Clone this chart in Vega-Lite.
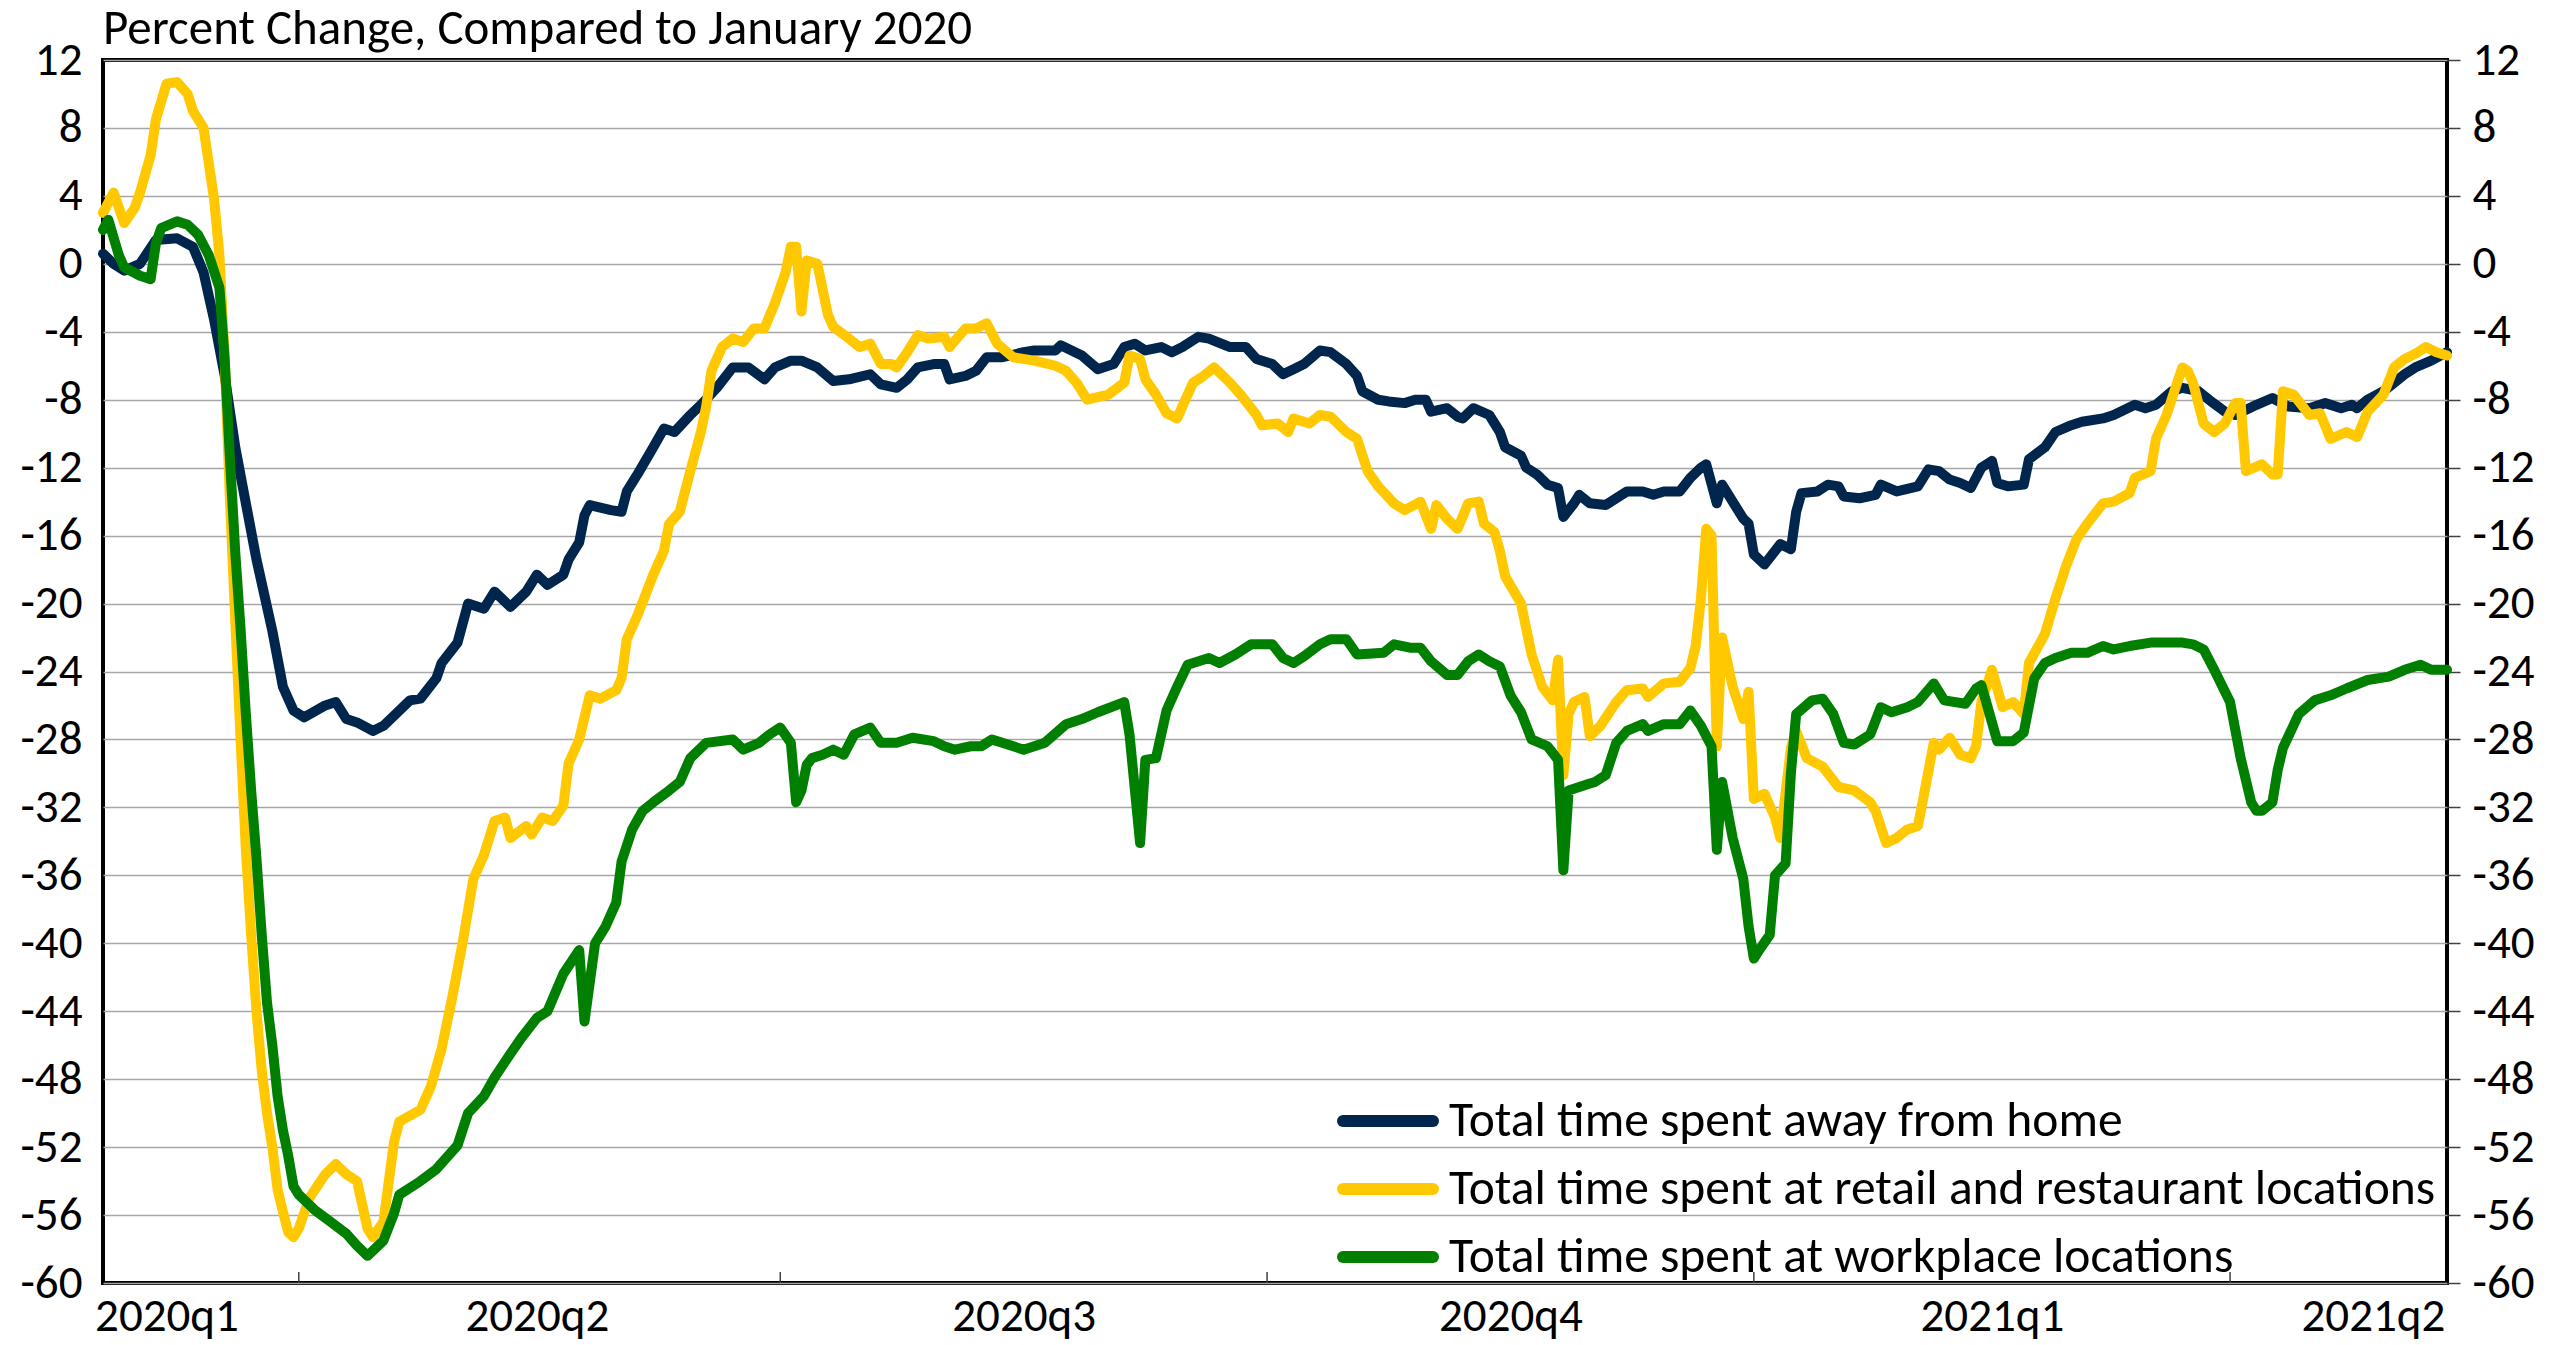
{
  "$schema": "https://vega.github.io/schema/vega-lite/v6.json",
  "autosize": {"type": "none"},
  "width": 2344,
  "height": 1223,
  "padding": {"left": 103, "top": 60, "right": 110, "bottom": 62},
  "background": "white",
  "config": {
    "font": "Carlito, Lato, sans-serif",
    "view": {"stroke": "black", "strokeWidth": 4},
    "axis": {"labelFont": "Carlito, Lato, sans-serif", "labelFontSize": 47, "labelColor": "black", "title": null}
  },
  "title": {
    "text": "Percent Change, Compared to January 2020",
    "anchor": "start",
    "frame": "group",
    "baseline": "alphabetic",
    "offset": -57,
    "fontSize": 49,
    "fontWeight": "normal",
    "color": "black",
    "font": "Carlito, Lato, sans-serif"
  },
  "datasets": {
    "qticks": [{"d": "2020-04-01"}, {"d": "2020-07-01"}, {"d": "2020-10-01"}, {"d": "2021-01-01"}, {"d": "2021-04-01"}],
    "home": [
      {"d":"2020-02-24","v":0.6},{"d":"2020-02-26","v":0.0},{"d":"2020-02-28","v":-0.4},{"d":"2020-03-02","v":0.0},{"d":"2020-03-05","v":1.4},{"d":"2020-03-09","v":1.5},{"d":"2020-03-12","v":1.0},{"d":"2020-03-14","v":-0.5},{"d":"2020-03-16","v":-3.3},{"d":"2020-03-18","v":-6.6},{"d":"2020-03-20","v":-10.8},{"d":"2020-03-22","v":-14.1},{"d":"2020-03-24","v":-17.4},{"d":"2020-03-27","v":-21.6},{"d":"2020-03-29","v":-24.9},{"d":"2020-03-31","v":-26.3},
      {"d":"2020-04-02","v":-26.7},{"d":"2020-04-06","v":-26.0},{"d":"2020-04-08","v":-25.8},{"d":"2020-04-10","v":-26.8},{"d":"2020-04-12","v":-27.0},{"d":"2020-04-15","v":-27.5},{"d":"2020-04-17","v":-27.2},{"d":"2020-04-20","v":-26.3},{"d":"2020-04-22","v":-25.7},{"d":"2020-04-24","v":-25.6},{"d":"2020-04-27","v":-24.4},{"d":"2020-04-28","v":-23.5},
      {"d":"2020-05-01","v":-22.3},{"d":"2020-05-03","v":-20.0},{"d":"2020-05-06","v":-20.3},{"d":"2020-05-08","v":-19.3},{"d":"2020-05-11","v":-20.2},{"d":"2020-05-14","v":-19.3},{"d":"2020-05-16","v":-18.3},{"d":"2020-05-18","v":-18.9},{"d":"2020-05-21","v":-18.3},{"d":"2020-05-22","v":-17.4},{"d":"2020-05-24","v":-16.4},{"d":"2020-05-25","v":-14.8},{"d":"2020-05-26","v":-14.2},{"d":"2020-05-30","v":-14.5},
      {"d":"2020-06-01","v":-14.6},{"d":"2020-06-02","v":-13.4},{"d":"2020-06-04","v":-12.4},{"d":"2020-06-07","v":-10.8},{"d":"2020-06-09","v":-9.7},{"d":"2020-06-11","v":-9.9},{"d":"2020-06-14","v":-8.9},{"d":"2020-06-16","v":-8.3},{"d":"2020-06-19","v":-7.3},{"d":"2020-06-22","v":-6.1},{"d":"2020-06-25","v":-6.1},{"d":"2020-06-28","v":-6.8},{"d":"2020-06-30","v":-6.1},
      {"d":"2020-07-03","v":-5.7},{"d":"2020-07-05","v":-5.7},{"d":"2020-07-08","v":-6.1},{"d":"2020-07-11","v":-6.9},{"d":"2020-07-14","v":-6.8},{"d":"2020-07-18","v":-6.5},{"d":"2020-07-20","v":-7.1},{"d":"2020-07-23","v":-7.3},{"d":"2020-07-25","v":-6.8},{"d":"2020-07-27","v":-6.1},{"d":"2020-07-30","v":-5.9},
      {"d":"2020-08-01","v":-5.9},{"d":"2020-08-02","v":-6.8},{"d":"2020-08-05","v":-6.6},{"d":"2020-08-07","v":-6.3},{"d":"2020-08-09","v":-5.5},{"d":"2020-08-12","v":-5.5},{"d":"2020-08-16","v":-5.2},{"d":"2020-08-18","v":-5.1},{"d":"2020-08-22","v":-5.1},{"d":"2020-08-23","v":-4.8},{"d":"2020-08-27","v":-5.4},{"d":"2020-08-30","v":-6.2},
      {"d":"2020-09-02","v":-5.9},{"d":"2020-09-04","v":-4.9},{"d":"2020-09-06","v":-4.7},{"d":"2020-09-08","v":-5.1},{"d":"2020-09-11","v":-4.9},{"d":"2020-09-13","v":-5.2},{"d":"2020-09-15","v":-4.9},{"d":"2020-09-18","v":-4.3},{"d":"2020-09-20","v":-4.4},{"d":"2020-09-24","v":-4.9},{"d":"2020-09-27","v":-4.9},{"d":"2020-09-29","v":-5.6},
      {"d":"2020-10-02","v":-5.9},{"d":"2020-10-04","v":-6.5},{"d":"2020-10-06","v":-6.2},{"d":"2020-10-08","v":-5.9},{"d":"2020-10-11","v":-5.1},{"d":"2020-10-13","v":-5.2},{"d":"2020-10-16","v":-5.9},{"d":"2020-10-18","v":-6.6},{"d":"2020-10-19","v":-7.5},{"d":"2020-10-22","v":-8.0},{"d":"2020-10-24","v":-8.1},{"d":"2020-10-27","v":-8.2},{"d":"2020-10-29","v":-8.0},{"d":"2020-10-31","v":-8.0},
      {"d":"2020-11-01","v":-8.7},{"d":"2020-11-04","v":-8.5},{"d":"2020-11-06","v":-9.0},{"d":"2020-11-07","v":-9.1},{"d":"2020-11-09","v":-8.5},{"d":"2020-11-12","v":-8.9},{"d":"2020-11-14","v":-9.9},{"d":"2020-11-15","v":-10.8},{"d":"2020-11-18","v":-11.3},{"d":"2020-11-19","v":-12.0},{"d":"2020-11-21","v":-12.4},{"d":"2020-11-23","v":-13.0},{"d":"2020-11-25","v":-13.2},{"d":"2020-11-26","v":-14.9},{"d":"2020-11-28","v":-14.1},{"d":"2020-11-29","v":-13.6},
      {"d":"2020-12-01","v":-14.1},{"d":"2020-12-04","v":-14.2},{"d":"2020-12-06","v":-13.8},{"d":"2020-12-08","v":-13.4},{"d":"2020-12-11","v":-13.4},{"d":"2020-12-13","v":-13.6},{"d":"2020-12-15","v":-13.4},{"d":"2020-12-18","v":-13.4},{"d":"2020-12-20","v":-12.6},{"d":"2020-12-22","v":-12.0},{"d":"2020-12-23","v":-11.8},{"d":"2020-12-25","v":-14.1},{"d":"2020-12-26","v":-13.0},{"d":"2020-12-28","v":-14.0},{"d":"2020-12-30","v":-15.0},{"d":"2020-12-31","v":-15.3},
      {"d":"2021-01-01","v":-17.1},{"d":"2021-01-03","v":-17.7},{"d":"2021-01-06","v":-16.5},{"d":"2021-01-08","v":-16.8},{"d":"2021-01-09","v":-14.6},{"d":"2021-01-10","v":-13.5},{"d":"2021-01-13","v":-13.4},{"d":"2021-01-15","v":-13.0},{"d":"2021-01-17","v":-13.1},{"d":"2021-01-18","v":-13.7},{"d":"2021-01-21","v":-13.8},{"d":"2021-01-24","v":-13.6},{"d":"2021-01-25","v":-13.0},{"d":"2021-01-28","v":-13.4},
      {"d":"2021-02-01","v":-13.1},{"d":"2021-02-03","v":-12.1},{"d":"2021-02-05","v":-12.2},{"d":"2021-02-07","v":-12.7},{"d":"2021-02-09","v":-12.9},{"d":"2021-02-11","v":-13.2},{"d":"2021-02-13","v":-12.0},{"d":"2021-02-15","v":-11.6},{"d":"2021-02-16","v":-12.9},{"d":"2021-02-18","v":-13.1},{"d":"2021-02-21","v":-13.0},{"d":"2021-02-22","v":-11.5},{"d":"2021-02-25","v":-10.8},{"d":"2021-02-27","v":-9.9},
      {"d":"2021-03-02","v":-9.5},{"d":"2021-03-04","v":-9.3},{"d":"2021-03-08","v":-9.1},{"d":"2021-03-10","v":-8.9},{"d":"2021-03-14","v":-8.3},{"d":"2021-03-16","v":-8.5},{"d":"2021-03-18","v":-8.3},{"d":"2021-03-21","v":-7.5},{"d":"2021-03-23","v":-7.3},{"d":"2021-03-26","v":-7.5},{"d":"2021-03-28","v":-8.0},{"d":"2021-03-31","v":-8.7},
      {"d":"2021-04-02","v":-8.9},{"d":"2021-04-06","v":-8.3},{"d":"2021-04-09","v":-7.9},{"d":"2021-04-12","v":-8.4},{"d":"2021-04-16","v":-8.5},{"d":"2021-04-19","v":-8.2},{"d":"2021-04-22","v":-8.5},{"d":"2021-04-24","v":-8.3},{"d":"2021-04-25","v":-8.5},{"d":"2021-04-27","v":-8.0},{"d":"2021-04-30","v":-7.5},
      {"d":"2021-05-02","v":-7.0},{"d":"2021-05-04","v":-6.5},{"d":"2021-05-06","v":-6.1},{"d":"2021-05-09","v":-5.7},{"d":"2021-05-12","v":-5.2}
    ],
    "retail": [
      {"d":"2020-02-24","v":3.0},{"d":"2020-02-26","v":4.2},{"d":"2020-02-28","v":2.4},{"d":"2020-03-01","v":3.3},{"d":"2020-03-02","v":4.2},{"d":"2020-03-04","v":6.4},{"d":"2020-03-05","v":8.5},{"d":"2020-03-07","v":10.6},{"d":"2020-03-09","v":10.7},{"d":"2020-03-11","v":10.0},{"d":"2020-03-12","v":9.0},{"d":"2020-03-14","v":8.0},{"d":"2020-03-16","v":3.8},{"d":"2020-03-17","v":0.5},{"d":"2020-03-18","v":-5.6},{"d":"2020-03-19","v":-14},{"d":"2020-03-20","v":-21},{"d":"2020-03-21","v":-28},{"d":"2020-03-22","v":-34.5},{"d":"2020-03-23","v":-39.5},{"d":"2020-03-24","v":-44},{"d":"2020-03-25","v":-47.5},{"d":"2020-03-26","v":-50},{"d":"2020-03-27","v":-52},{"d":"2020-03-28","v":-54.5},{"d":"2020-03-29","v":-55.8},{"d":"2020-03-30","v":-57},{"d":"2020-03-31","v":-57.3},
      {"d":"2020-04-01","v":-56.8},{"d":"2020-04-03","v":-55.0},{"d":"2020-04-06","v":-53.6},{"d":"2020-04-08","v":-53.0},{"d":"2020-04-10","v":-53.6},{"d":"2020-04-12","v":-54.0},{"d":"2020-04-14","v":-56.8},{"d":"2020-04-15","v":-57.3},{"d":"2020-04-17","v":-56.4},{"d":"2020-04-19","v":-51.7},{"d":"2020-04-20","v":-50.5},{"d":"2020-04-24","v":-49.8},{"d":"2020-04-26","v":-48.4},{"d":"2020-04-28","v":-46.2},{"d":"2020-04-30","v":-43.2},
      {"d":"2020-05-02","v":-39.9},{"d":"2020-05-04","v":-36.2},{"d":"2020-05-06","v":-34.8},{"d":"2020-05-08","v":-32.8},{"d":"2020-05-10","v":-32.6},{"d":"2020-05-11","v":-33.8},{"d":"2020-05-14","v":-33.1},{"d":"2020-05-15","v":-33.6},{"d":"2020-05-17","v":-32.6},{"d":"2020-05-19","v":-32.8},{"d":"2020-05-21","v":-31.9},{"d":"2020-05-22","v":-29.4},{"d":"2020-05-24","v":-28.0},{"d":"2020-05-26","v":-25.4},{"d":"2020-05-28","v":-25.6},{"d":"2020-05-31","v":-25.1},
      {"d":"2020-06-01","v":-24.4},{"d":"2020-06-02","v":-22.1},{"d":"2020-06-04","v":-20.7},{"d":"2020-06-07","v":-18.3},{"d":"2020-06-09","v":-16.9},{"d":"2020-06-10","v":-15.3},{"d":"2020-06-12","v":-14.6},{"d":"2020-06-14","v":-12.2},{"d":"2020-06-16","v":-9.9},{"d":"2020-06-17","v":-8.4},{"d":"2020-06-18","v":-6.3},{"d":"2020-06-20","v":-4.9},{"d":"2020-06-22","v":-4.4},{"d":"2020-06-24","v":-4.6},{"d":"2020-06-26","v":-3.8},{"d":"2020-06-28","v":-3.8},{"d":"2020-06-30","v":-2.3},
      {"d":"2020-07-02","v":-0.5},{"d":"2020-07-03","v":1.0},{"d":"2020-07-04","v":1.0},{"d":"2020-07-05","v":-2.8},{"d":"2020-07-06","v":0.2},{"d":"2020-07-08","v":0.0},{"d":"2020-07-10","v":-3.0},{"d":"2020-07-11","v":-3.7},{"d":"2020-07-14","v":-4.4},{"d":"2020-07-16","v":-4.9},{"d":"2020-07-18","v":-4.7},{"d":"2020-07-20","v":-5.9},{"d":"2020-07-22","v":-5.9},{"d":"2020-07-23","v":-6.1},{"d":"2020-07-25","v":-5.2},{"d":"2020-07-27","v":-4.2},{"d":"2020-07-29","v":-4.4},
      {"d":"2020-08-01","v":-4.3},{"d":"2020-08-02","v":-4.9},{"d":"2020-08-05","v":-3.8},{"d":"2020-08-07","v":-3.8},{"d":"2020-08-09","v":-3.5},{"d":"2020-08-11","v":-4.7},{"d":"2020-08-14","v":-5.5},{"d":"2020-08-18","v":-5.7},{"d":"2020-08-22","v":-6.0},{"d":"2020-08-24","v":-6.3},{"d":"2020-08-26","v":-7.0},{"d":"2020-08-28","v":-8.0},
      {"d":"2020-09-01","v":-7.7},{"d":"2020-09-04","v":-7.0},{"d":"2020-09-05","v":-5.4},{"d":"2020-09-07","v":-5.6},{"d":"2020-09-08","v":-6.8},{"d":"2020-09-10","v":-7.7},{"d":"2020-09-12","v":-8.8},{"d":"2020-09-14","v":-9.1},{"d":"2020-09-17","v":-7.0},{"d":"2020-09-19","v":-6.6},{"d":"2020-09-21","v":-6.1},{"d":"2020-09-24","v":-7.0},{"d":"2020-09-26","v":-7.7},{"d":"2020-09-29","v":-8.9},{"d":"2020-09-30","v":-9.5},
      {"d":"2020-10-03","v":-9.4},{"d":"2020-10-05","v":-9.9},{"d":"2020-10-06","v":-9.1},{"d":"2020-10-09","v":-9.4},{"d":"2020-10-11","v":-8.9},{"d":"2020-10-13","v":-9.0},{"d":"2020-10-16","v":-9.9},{"d":"2020-10-18","v":-10.3},{"d":"2020-10-20","v":-12.2},{"d":"2020-10-22","v":-13.1},{"d":"2020-10-25","v":-14.1},{"d":"2020-10-27","v":-14.5},{"d":"2020-10-30","v":-14.0},
      {"d":"2020-11-01","v":-15.6},{"d":"2020-11-02","v":-14.2},{"d":"2020-11-04","v":-15.0},{"d":"2020-11-06","v":-15.6},{"d":"2020-11-08","v":-14.1},{"d":"2020-11-10","v":-14.0},{"d":"2020-11-11","v":-15.3},{"d":"2020-11-13","v":-15.8},{"d":"2020-11-14","v":-16.9},{"d":"2020-11-15","v":-18.4},{"d":"2020-11-18","v":-20.0},{"d":"2020-11-20","v":-23.0},{"d":"2020-11-22","v":-24.9},{"d":"2020-11-24","v":-25.7},{"d":"2020-11-25","v":-23.3},{"d":"2020-11-26","v":-30.1},{"d":"2020-11-27","v":-26.5},{"d":"2020-11-28","v":-25.8},{"d":"2020-11-30","v":-25.5},
      {"d":"2020-12-01","v":-27.8},{"d":"2020-12-03","v":-27.2},{"d":"2020-12-06","v":-25.8},{"d":"2020-12-08","v":-25.1},{"d":"2020-12-11","v":-25.0},{"d":"2020-12-12","v":-25.5},{"d":"2020-12-15","v":-24.7},{"d":"2020-12-18","v":-24.6},{"d":"2020-12-20","v":-23.8},{"d":"2020-12-21","v":-22.5},{"d":"2020-12-22","v":-19.7},{"d":"2020-12-23","v":-15.6},{"d":"2020-12-24","v":-16.0},{"d":"2020-12-25","v":-28.4},{"d":"2020-12-26","v":-22.0},{"d":"2020-12-28","v":-24.9},{"d":"2020-12-30","v":-26.8},{"d":"2020-12-31","v":-25.2},
      {"d":"2021-01-01","v":-31.5},{"d":"2021-01-03","v":-31.2},{"d":"2021-01-05","v":-32.6},{"d":"2021-01-06","v":-33.8},{"d":"2021-01-08","v":-28.5},{"d":"2021-01-09","v":-27.5},{"d":"2021-01-11","v":-29.1},{"d":"2021-01-14","v":-29.6},{"d":"2021-01-17","v":-30.8},{"d":"2021-01-20","v":-31.0},{"d":"2021-01-23","v":-31.7},{"d":"2021-01-24","v":-32.2},{"d":"2021-01-26","v":-34.1},{"d":"2021-01-28","v":-33.8},{"d":"2021-01-30","v":-33.3},
      {"d":"2021-02-01","v":-33.1},{"d":"2021-02-02","v":-31.5},{"d":"2021-02-04","v":-28.2},{"d":"2021-02-05","v":-28.6},{"d":"2021-02-07","v":-27.9},{"d":"2021-02-09","v":-28.9},{"d":"2021-02-11","v":-29.1},{"d":"2021-02-12","v":-28.4},{"d":"2021-02-13","v":-25.8},{"d":"2021-02-15","v":-23.9},{"d":"2021-02-17","v":-26.1},{"d":"2021-02-19","v":-25.8},{"d":"2021-02-21","v":-26.5},{"d":"2021-02-22","v":-23.5},{"d":"2021-02-25","v":-21.8},{"d":"2021-02-27","v":-19.7},
      {"d":"2021-03-01","v":-17.8},{"d":"2021-03-03","v":-16.2},{"d":"2021-03-05","v":-15.3},{"d":"2021-03-08","v":-14.1},{"d":"2021-03-10","v":-14.0},{"d":"2021-03-13","v":-13.5},{"d":"2021-03-14","v":-12.6},{"d":"2021-03-17","v":-12.2},{"d":"2021-03-18","v":-10.3},{"d":"2021-03-20","v":-8.9},{"d":"2021-03-22","v":-7.0},{"d":"2021-03-23","v":-6.1},{"d":"2021-03-24","v":-6.3},{"d":"2021-03-25","v":-7.0},{"d":"2021-03-27","v":-9.4},{"d":"2021-03-29","v":-9.9},{"d":"2021-03-31","v":-9.4},
      {"d":"2021-04-02","v":-8.2},{"d":"2021-04-03","v":-8.2},{"d":"2021-04-04","v":-12.2},{"d":"2021-04-07","v":-11.8},{"d":"2021-04-09","v":-12.4},{"d":"2021-04-10","v":-12.4},{"d":"2021-04-11","v":-7.5},{"d":"2021-04-13","v":-7.7},{"d":"2021-04-16","v":-8.9},{"d":"2021-04-18","v":-8.8},{"d":"2021-04-20","v":-10.3},{"d":"2021-04-23","v":-9.9},{"d":"2021-04-25","v":-10.2},{"d":"2021-04-27","v":-8.7},{"d":"2021-04-30","v":-7.7},
      {"d":"2021-05-02","v":-6.1},{"d":"2021-05-04","v":-5.6},{"d":"2021-05-06","v":-5.3},{"d":"2021-05-08","v":-4.9},{"d":"2021-05-10","v":-5.2},{"d":"2021-05-12","v":-5.4}
    ],
    "work": [
      {"d":"2020-02-24","v":2.0},{"d":"2020-02-25","v":2.6},{"d":"2020-02-27","v":0.5},{"d":"2020-02-28","v":-0.2},{"d":"2020-03-02","v":-0.7},{"d":"2020-03-04","v":-0.9},{"d":"2020-03-05","v":1.2},{"d":"2020-03-06","v":2.1},{"d":"2020-03-09","v":2.5},{"d":"2020-03-11","v":2.3},{"d":"2020-03-13","v":1.7},{"d":"2020-03-15","v":0.5},{"d":"2020-03-17","v":-1.4},{"d":"2020-03-18","v":-5.6},{"d":"2020-03-19","v":-11.5},{"d":"2020-03-20","v":-17},{"d":"2020-03-21","v":-21.5},{"d":"2020-03-22","v":-26.5},{"d":"2020-03-23","v":-31},{"d":"2020-03-24","v":-35},{"d":"2020-03-25","v":-39.5},{"d":"2020-03-26","v":-43.5},{"d":"2020-03-27","v":-46},{"d":"2020-03-28","v":-49},{"d":"2020-03-29","v":-51},{"d":"2020-03-30","v":-52.5},{"d":"2020-03-31","v":-54.3},
      {"d":"2020-04-01","v":-54.8},{"d":"2020-04-04","v":-55.7},{"d":"2020-04-07","v":-56.4},{"d":"2020-04-10","v":-57.1},{"d":"2020-04-12","v":-57.8},{"d":"2020-04-14","v":-58.4},{"d":"2020-04-17","v":-57.5},{"d":"2020-04-19","v":-55.9},{"d":"2020-04-20","v":-54.8},{"d":"2020-04-24","v":-54.0},{"d":"2020-04-27","v":-53.3},
      {"d":"2020-05-01","v":-51.9},{"d":"2020-05-03","v":-50.0},{"d":"2020-05-06","v":-49.0},{"d":"2020-05-08","v":-47.9},{"d":"2020-05-11","v":-46.5},{"d":"2020-05-13","v":-45.6},{"d":"2020-05-16","v":-44.4},{"d":"2020-05-18","v":-44.0},{"d":"2020-05-21","v":-41.8},{"d":"2020-05-24","v":-40.4},{"d":"2020-05-25","v":-44.6},{"d":"2020-05-27","v":-40.0},{"d":"2020-05-29","v":-39.0},{"d":"2020-05-31","v":-37.6},
      {"d":"2020-06-01","v":-35.2},{"d":"2020-06-03","v":-33.3},{"d":"2020-06-05","v":-32.2},{"d":"2020-06-07","v":-31.7},{"d":"2020-06-10","v":-31.0},{"d":"2020-06-12","v":-30.5},{"d":"2020-06-14","v":-29.1},{"d":"2020-06-17","v":-28.2},{"d":"2020-06-22","v":-28.0},{"d":"2020-06-24","v":-28.6},{"d":"2020-06-27","v":-28.2},{"d":"2020-06-29","v":-27.7},
      {"d":"2020-07-01","v":-27.3},{"d":"2020-07-03","v":-28.2},{"d":"2020-07-04","v":-31.7},{"d":"2020-07-05","v":-31.0},{"d":"2020-07-06","v":-29.5},{"d":"2020-07-07","v":-29.1},{"d":"2020-07-09","v":-28.9},{"d":"2020-07-11","v":-28.6},{"d":"2020-07-13","v":-28.9},{"d":"2020-07-15","v":-27.7},{"d":"2020-07-18","v":-27.3},{"d":"2020-07-20","v":-28.2},{"d":"2020-07-23","v":-28.2},{"d":"2020-07-26","v":-27.9},{"d":"2020-07-30","v":-28.1},
      {"d":"2020-08-01","v":-28.4},{"d":"2020-08-03","v":-28.6},{"d":"2020-08-06","v":-28.4},{"d":"2020-08-08","v":-28.4},{"d":"2020-08-10","v":-28.0},{"d":"2020-08-13","v":-28.3},{"d":"2020-08-16","v":-28.6},{"d":"2020-08-20","v":-28.2},{"d":"2020-08-24","v":-27.1},{"d":"2020-08-27","v":-26.8},{"d":"2020-08-30","v":-26.4},
      {"d":"2020-09-04","v":-25.8},{"d":"2020-09-05","v":-27.7},{"d":"2020-09-07","v":-34.1},{"d":"2020-09-08","v":-29.2},{"d":"2020-09-10","v":-29.1},{"d":"2020-09-12","v":-26.3},{"d":"2020-09-14","v":-24.9},{"d":"2020-09-16","v":-23.6},{"d":"2020-09-20","v":-23.2},{"d":"2020-09-22","v":-23.5},{"d":"2020-09-25","v":-23.0},{"d":"2020-09-28","v":-22.4},
      {"d":"2020-10-02","v":-22.4},{"d":"2020-10-04","v":-23.2},{"d":"2020-10-06","v":-23.5},{"d":"2020-10-08","v":-23.1},{"d":"2020-10-11","v":-22.4},{"d":"2020-10-13","v":-22.1},{"d":"2020-10-16","v":-22.1},{"d":"2020-10-18","v":-23.0},{"d":"2020-10-23","v":-22.9},{"d":"2020-10-25","v":-22.4},{"d":"2020-10-28","v":-22.6},{"d":"2020-10-30","v":-22.6},
      {"d":"2020-11-01","v":-23.4},{"d":"2020-11-04","v":-24.2},{"d":"2020-11-06","v":-24.2},{"d":"2020-11-08","v":-23.4},{"d":"2020-11-10","v":-23.0},{"d":"2020-11-12","v":-23.4},{"d":"2020-11-14","v":-23.7},{"d":"2020-11-16","v":-25.4},{"d":"2020-11-18","v":-26.4},{"d":"2020-11-20","v":-28.0},{"d":"2020-11-23","v":-28.4},{"d":"2020-11-25","v":-29.2},{"d":"2020-11-26","v":-35.7},{"d":"2020-11-27","v":-31.0},{"d":"2020-11-29","v":-30.8},
      {"d":"2020-12-01","v":-30.6},{"d":"2020-12-02","v":-30.5},{"d":"2020-12-04","v":-30.1},{"d":"2020-12-06","v":-28.2},{"d":"2020-12-08","v":-27.5},{"d":"2020-12-11","v":-27.1},{"d":"2020-12-12","v":-27.5},{"d":"2020-12-15","v":-27.1},{"d":"2020-12-18","v":-27.1},{"d":"2020-12-20","v":-26.3},{"d":"2020-12-22","v":-27.2},{"d":"2020-12-24","v":-28.4},{"d":"2020-12-25","v":-34.5},{"d":"2020-12-26","v":-30.5},{"d":"2020-12-28","v":-33.8},{"d":"2020-12-30","v":-36.2},{"d":"2020-12-31","v":-39.0},
      {"d":"2021-01-01","v":-40.9},{"d":"2021-01-02","v":-40.4},{"d":"2021-01-04","v":-39.5},{"d":"2021-01-05","v":-36.0},{"d":"2021-01-07","v":-35.3},{"d":"2021-01-08","v":-30.0},{"d":"2021-01-09","v":-26.5},{"d":"2021-01-12","v":-25.7},{"d":"2021-01-14","v":-25.6},{"d":"2021-01-16","v":-26.5},{"d":"2021-01-18","v":-28.2},{"d":"2021-01-20","v":-28.3},{"d":"2021-01-23","v":-27.7},{"d":"2021-01-25","v":-26.1},{"d":"2021-01-27","v":-26.4},{"d":"2021-01-30","v":-26.1},
      {"d":"2021-02-01","v":-25.8},{"d":"2021-02-04","v":-24.7},{"d":"2021-02-06","v":-25.7},{"d":"2021-02-10","v":-25.9},{"d":"2021-02-12","v":-25.0},{"d":"2021-02-13","v":-24.8},{"d":"2021-02-15","v":-27.0},{"d":"2021-02-16","v":-28.1},{"d":"2021-02-19","v":-28.1},{"d":"2021-02-21","v":-27.6},{"d":"2021-02-22","v":-26.0},{"d":"2021-02-23","v":-24.4},{"d":"2021-02-25","v":-23.5},{"d":"2021-02-27","v":-23.2},
      {"d":"2021-03-02","v":-22.9},{"d":"2021-03-05","v":-22.9},{"d":"2021-03-08","v":-22.5},{"d":"2021-03-10","v":-22.7},{"d":"2021-03-13","v":-22.5},{"d":"2021-03-17","v":-22.3},{"d":"2021-03-23","v":-22.3},{"d":"2021-03-25","v":-22.4},{"d":"2021-03-27","v":-22.7},{"d":"2021-03-29","v":-23.9},
      {"d":"2021-04-01","v":-25.8},{"d":"2021-04-03","v":-29.1},{"d":"2021-04-05","v":-31.7},{"d":"2021-04-06","v":-32.2},{"d":"2021-04-07","v":-32.2},{"d":"2021-04-09","v":-31.7},{"d":"2021-04-10","v":-29.8},{"d":"2021-04-11","v":-28.5},{"d":"2021-04-14","v":-26.5},{"d":"2021-04-17","v":-25.7},{"d":"2021-04-20","v":-25.4},{"d":"2021-04-23","v":-25.0},{"d":"2021-04-27","v":-24.5},
      {"d":"2021-05-01","v":-24.3},{"d":"2021-05-04","v":-23.9},{"d":"2021-05-07","v":-23.6},{"d":"2021-05-09","v":-23.9},{"d":"2021-05-12","v":-23.9}
    ]
  },
  "resolve": {"axis": {"y": "independent"}},
  "layer": [
    {
      "mark": {"type": "rule", "color": "black", "strokeWidth": 5},
      "encoding": {
        "y": {
          "datum": 0, "type": "quantitative",
          "scale": {"domain": [-60, 12], "nice": false, "zero": false},
          "axis": {
            "orient": "left", "values": [-60,-56,-52,-48,-44,-40,-36,-32,-28,-24,-20,-16,-12,-8,-4,0,4,8,12],
            "labelExpr": "'' + datum.value", "grid": true, "gridColor": "#a6a6a6", "gridWidth": 1.5,
            "ticks": false, "tickSize": 0, "domain": false, "labelPadding": 21, "title": null
          }
        }
      }
    },
    {
      "data": {"name": "qticks"},
      "mark": {"type": "rule", "color": "#404040", "strokeWidth": 1.5},
      "encoding": {
        "x": {"field": "d", "type": "temporal",
              "scale": {"domain": [{"year": 2020, "month": 2, "date": 24, "utc": true}, {"year": 2021, "month": 5, "date": 12, "utc": true}], "nice": false},
              "axis": {"orient": "bottom", "values": [{"year": 2020, "month": 3, "date": 7, "utc": true}, {"year": 2020, "month": 5, "date": 16, "utc": true}, {"year": 2020, "month": 8, "date": 16, "utc": true}, {"year": 2020, "month": 11, "date": 16, "utc": true}, {"year": 2021, "month": 2, "date": 15, "utc": true}, {"year": 2021, "month": 4, "date": 28, "utc": true}], "labelExpr": "timeFormat(datum.value, '%Y') + 'q' + quarter(datum.value)", "ticks": false, "tickSize": 0, "domain": false, "grid": false, "labelPadding": 10, "labelFlush": false, "labelOverlap": false, "title": null}},
        "y": {"datum": -60, "type": "quantitative", "axis": null},
        "y2": {"datum": -59.35}
      }
    },
    {
      "data": {"name": "home"},
      "mark": {"type": "line", "strokeWidth": 10, "strokeJoin": "round", "strokeCap": "round"},
      "encoding": {
        "x": {"field": "d", "type": "temporal",
              "axis": {"orient": "bottom", "values": [{"year": 2020, "month": 3, "date": 7, "utc": true}, {"year": 2020, "month": 5, "date": 16, "utc": true}, {"year": 2020, "month": 8, "date": 16, "utc": true}, {"year": 2020, "month": 11, "date": 16, "utc": true}, {"year": 2021, "month": 2, "date": 15, "utc": true}, {"year": 2021, "month": 4, "date": 28, "utc": true}], "labelExpr": "timeFormat(datum.value, '%Y') + 'q' + quarter(datum.value)", "ticks": false, "tickSize": 0, "domain": false, "grid": false, "labelPadding": 10, "labelFlush": false, "labelOverlap": false, "title": null}},
        "y": {"field": "v", "type": "quantitative",
              "axis": {
                "orient": "right", "values": [-60,-56,-52,-48,-44,-40,-36,-32,-28,-24,-20,-16,-12,-8,-4,0,4,8,12],
                "labelExpr": "'' + datum.value", "grid": false, "ticks": true, "tickSize": 13, "tickColor": "#404040", "tickWidth": 1.5,
                "domain": false, "labelPadding": 12, "title": null
              }},
        "color": {
          "datum": "Total time spent away from home",
          "scale": {
            "domain": ["Total time spent away from home", "Total time spent at retail and restaurant locations", "Total time spent at workplace locations"],
            "range": ["#00264D", "#FFC800", "#007F00"]
          },
          "legend": {
            "orient": "none", "legendX": 1234, "legendY": 1027, "title": null,
            "symbolType": "stroke", "symbolSize": 8100, "symbolStrokeWidth": 12,
            "labelFontSize": 49.5, "labelFont": "Carlito, Lato, sans-serif", "labelColor": "black",
            "labelOffset": 10, "clipHeight": 68, "rowPadding": 0, "padding": 0, "labelLimit": 2000,
            "encode": {"symbols": {"update": {"strokeCap": {"value": "round"}}}}
          }
        }
      }
    },
    {
      "data": {"name": "retail"},
      "mark": {"type": "line", "strokeWidth": 10, "strokeJoin": "round", "strokeCap": "round"},
      "encoding": {
        "x": {"field": "d", "type": "temporal",
              "axis": {"orient": "bottom", "values": [{"year": 2020, "month": 3, "date": 7, "utc": true}, {"year": 2020, "month": 5, "date": 16, "utc": true}, {"year": 2020, "month": 8, "date": 16, "utc": true}, {"year": 2020, "month": 11, "date": 16, "utc": true}, {"year": 2021, "month": 2, "date": 15, "utc": true}, {"year": 2021, "month": 4, "date": 28, "utc": true}], "labelExpr": "timeFormat(datum.value, '%Y') + 'q' + quarter(datum.value)", "ticks": false, "tickSize": 0, "domain": false, "grid": false, "labelPadding": 10, "labelFlush": false, "labelOverlap": false, "title": null}},
        "y": {"field": "v", "type": "quantitative", "axis": null},
        "color": {"datum": "Total time spent at retail and restaurant locations"}
      }
    },
    {
      "data": {"name": "work"},
      "mark": {"type": "line", "strokeWidth": 10, "strokeJoin": "round", "strokeCap": "round"},
      "encoding": {
        "x": {"field": "d", "type": "temporal",
              "axis": {"orient": "bottom", "values": [{"year": 2020, "month": 3, "date": 7, "utc": true}, {"year": 2020, "month": 5, "date": 16, "utc": true}, {"year": 2020, "month": 8, "date": 16, "utc": true}, {"year": 2020, "month": 11, "date": 16, "utc": true}, {"year": 2021, "month": 2, "date": 15, "utc": true}, {"year": 2021, "month": 4, "date": 28, "utc": true}], "labelExpr": "timeFormat(datum.value, '%Y') + 'q' + quarter(datum.value)", "ticks": false, "tickSize": 0, "domain": false, "grid": false, "labelPadding": 10, "labelFlush": false, "labelOverlap": false, "title": null}},
        "y": {"field": "v", "type": "quantitative", "axis": null},
        "color": {"datum": "Total time spent at workplace locations"}
      }
    }
  ]
}
